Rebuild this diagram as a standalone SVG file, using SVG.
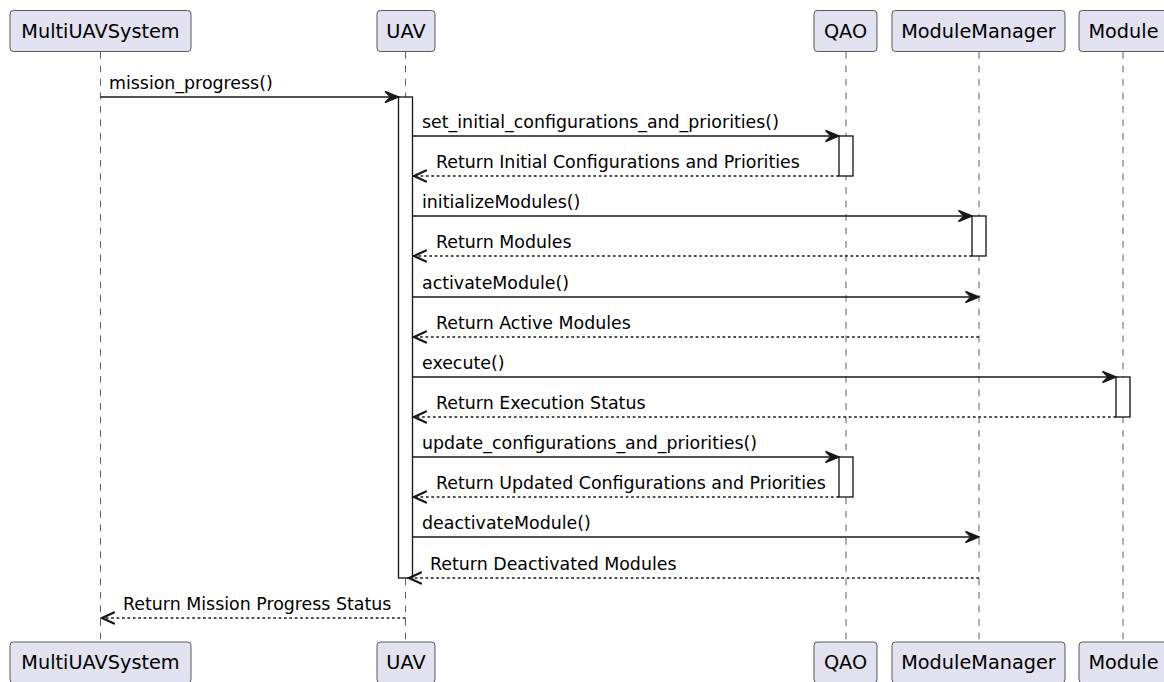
<svg xmlns="http://www.w3.org/2000/svg" width="1164" height="682" viewBox="0 0 1164 682">
<style>
.box{fill:#E2E2F0;stroke:#181818;stroke-width:0.7}
.pt{font-family:"DejaVu Sans",sans-serif;font-size:19.3px;fill:#000;text-anchor:middle}
.life{stroke:#181818;stroke-width:0.7;stroke-dasharray:6.75,6.75;fill:none}
.act{fill:#FFFFFF;stroke:#181818;stroke-width:1.35}
.msg{stroke:#181818;stroke-width:1.35;fill:none}
.ret{stroke:#181818;stroke-width:1.35;stroke-dasharray:2.7,2.7;fill:none}
.head{fill:#181818;stroke:#181818;stroke-width:1.35}
.rhead{fill:none;stroke:#181818;stroke-width:2.2;stroke-linecap:round;stroke-linejoin:miter}
.mt{font-family:"DejaVu Sans",sans-serif;font-size:17.4px;fill:#000}
</style>
<g id="lifelines">
<line class="life" x1="100.5" y1="52" x2="100.5" y2="642"/>
<line class="life" x1="405.5" y1="52" x2="405.5" y2="642"/>
<line class="life" x1="846" y1="52" x2="846" y2="642"/>
<line class="life" x1="979" y1="52" x2="979" y2="642"/>
<line class="life" x1="1123" y1="52" x2="1123" y2="642"/>
</g>
<g id="p-MultiUAVSystem">
<rect class="box" x="10" y="10.5" width="181" height="41" rx="3.4"/>
<text class="pt" x="100.5" y="37.5">MultiUAVSystem</text>
<rect class="box" x="10" y="642" width="181" height="41" rx="3.4"/>
<text class="pt" x="100.5" y="669">MultiUAVSystem</text>
</g>
<g id="p-UAV">
<rect class="box" x="377" y="10.5" width="58" height="41" rx="3.4"/>
<text class="pt" x="406" y="37.5">UAV</text>
<rect class="box" x="377" y="642" width="58" height="41" rx="3.4"/>
<text class="pt" x="406" y="669">UAV</text>
</g>
<g id="p-QAO">
<rect class="box" x="814" y="10.5" width="63" height="41" rx="3.4"/>
<text class="pt" x="845.5" y="37.5">QAO</text>
<rect class="box" x="814" y="642" width="63" height="41" rx="3.4"/>
<text class="pt" x="845.5" y="669">QAO</text>
</g>
<g id="p-ModuleManager">
<rect class="box" x="892" y="10.5" width="173" height="41" rx="3.4"/>
<text class="pt" x="978.5" y="37.5">ModuleManager</text>
<rect class="box" x="892" y="642" width="173" height="41" rx="3.4"/>
<text class="pt" x="978.5" y="669">ModuleManager</text>
</g>
<g id="p-Module">
<rect class="box" x="1079" y="10.5" width="89" height="41" rx="3.4"/>
<text class="pt" x="1123.5" y="37.5">Module</text>
<rect class="box" x="1079" y="642" width="89" height="41" rx="3.4"/>
<text class="pt" x="1123.5" y="669">Module</text>
</g>
<g id="activations">
<rect class="act" x="398.5" y="97" width="14" height="481"/>
<rect class="act" x="839" y="136" width="14" height="40"/>
<rect class="act" x="839" y="457" width="14" height="40"/>
<rect class="act" x="972" y="216" width="14" height="40"/>
<rect class="act" x="1116" y="377" width="14" height="40"/>
</g>
<g id="connectors">
<line class="msg" x1="100.5" y1="97" x2="396" y2="97"/>
<polygon class="head" points="398.5,97 385,91.5 390.5,97 385,102.5"/>
<text class="mt" x="109" y="89">mission_progress()</text>

<line class="msg" x1="412.5" y1="136" x2="836" y2="136"/>
<polygon class="head" points="839,136 825.5,130.5 831,136 825.5,141.5"/>
<text class="mt" x="422" y="128">set_initial_configurations_and_priorities()</text>

<line class="ret" x1="839" y1="176" x2="414" y2="176"/>
<polyline class="rhead" points="426,170.5 414,176 426,181.5"/>
<text class="mt" x="436" y="168">Return Initial Configurations and Priorities</text>

<line class="msg" x1="412.5" y1="216" x2="969" y2="216"/>
<polygon class="head" points="972,216 958.5,210.5 964,216 958.5,221.5"/>
<text class="mt" x="422" y="208">initializeModules()</text>

<line class="ret" x1="972" y1="256" x2="414" y2="256"/>
<polyline class="rhead" points="426,250.5 414,256 426,261.5"/>
<text class="mt" x="436" y="248">Return Modules</text>

<line class="msg" x1="412.5" y1="297" x2="976" y2="297"/>
<polygon class="head" points="979,297 965.5,291.5 971,297 965.5,302.5"/>
<text class="mt" x="422" y="289">activateModule()</text>

<line class="ret" x1="979" y1="337" x2="414" y2="337"/>
<polyline class="rhead" points="426,331.5 414,337 426,342.5"/>
<text class="mt" x="436" y="329">Return Active Modules</text>

<line class="msg" x1="412.5" y1="377" x2="1113" y2="377"/>
<polygon class="head" points="1116,377 1102.5,371.5 1108,377 1102.5,382.5"/>
<text class="mt" x="422" y="369">execute()</text>

<line class="ret" x1="1116" y1="417" x2="414" y2="417"/>
<polyline class="rhead" points="426,411.5 414,417 426,422.5"/>
<text class="mt" x="436" y="409">Return Execution Status</text>

<line class="msg" x1="412.5" y1="457" x2="836" y2="457"/>
<polygon class="head" points="839,457 825.5,451.5 831,457 825.5,462.5"/>
<text class="mt" x="422" y="449">update_configurations_and_priorities()</text>

<line class="ret" x1="839" y1="497" x2="414" y2="497"/>
<polyline class="rhead" points="426,491.5 414,497 426,502.5"/>
<text class="mt" x="436" y="489">Return Updated Configurations and Priorities</text>

<line class="msg" x1="412.5" y1="537" x2="976" y2="537"/>
<polygon class="head" points="979,537 965.5,531.5 971,537 965.5,542.5"/>
<text class="mt" x="422" y="529">deactivateModule()</text>

<line class="ret" x1="979" y1="578" x2="409" y2="578"/>
<polyline class="rhead" points="421,572.5 409,578 421,583.5"/>
<text class="mt" x="430" y="570">Return Deactivated Modules</text>

<line class="ret" x1="405.5" y1="618" x2="102" y2="618"/>
<polyline class="rhead" points="114,612.5 102,618 114,623.5"/>
<text class="mt" x="123" y="610">Return Mission Progress Status</text>
</g>
</svg>
